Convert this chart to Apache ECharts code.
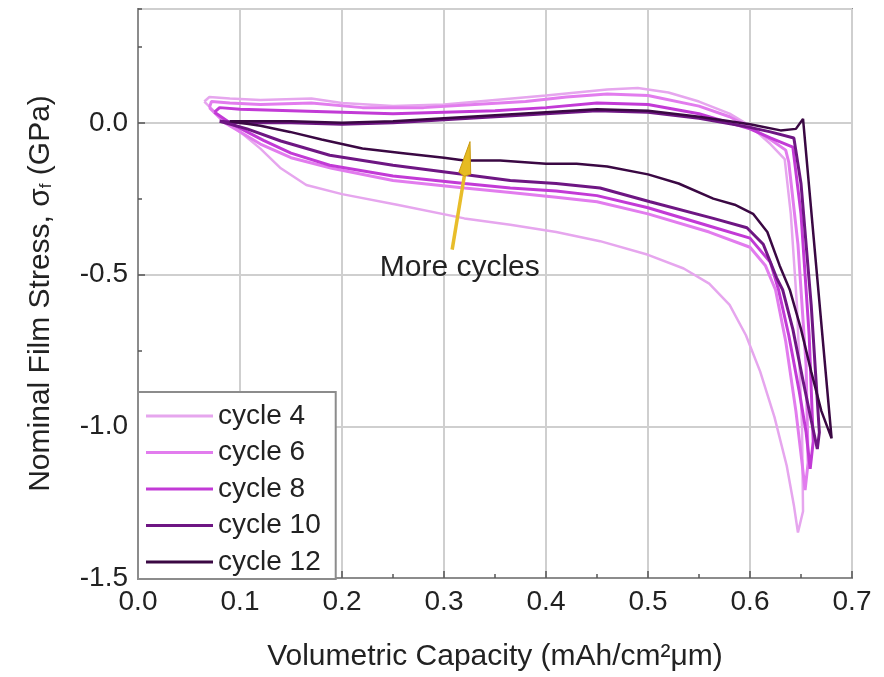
<!DOCTYPE html>
<html><head><meta charset="utf-8">
<script src="https://cdn.jsdelivr.net/npm/echarts@6/dist/echarts.min.js"></script>
<style>html,body{margin:0;padding:0;background:#fff}#c{width:884px;height:677px}</style>
</head><body><div id="c"></div><script>
const seriesNames = ['cycle 4', 'cycle 6', 'cycle 8', 'cycle 10', 'cycle 12'];
const seriesColors = ['#e6a6ee', '#e27cee', '#c23ad6', '#6e1683', '#3a0843'];
// each loop: discharge (left->right), steep rise, charge (right->left)
const cycle4 = [[0.065,0.07],[0.08,0.02],[0.1,-0.03],[0.12,-0.085],[0.14,-0.15],[0.165,-0.205],[0.2,-0.235],[0.254,-0.27],[0.32,-0.315],[0.365,-0.336],[0.41,-0.36],[0.453,-0.39],[0.5,-0.435],[0.535,-0.48],[0.56,-0.53],[0.58,-0.6],[0.596,-0.7],[0.61,-0.82],[0.624,-0.97],[0.636,-1.13],[0.643,-1.26],[0.647,-1.35],
  [0.652,-1.28],[0.651,-1.0],[0.646,-0.6],[0.64,-0.3],[0.634,-0.12],
  [0.62,-0.07],[0.6,-0.01],[0.58,0.03],[0.55,0.07],[0.52,0.1],[0.49,0.115],[0.46,0.11],[0.43,0.1],[0.4,0.09],[0.35,0.075],[0.3,0.06],[0.25,0.055],[0.2,0.065],[0.17,0.08],[0.12,0.075],[0.09,0.08],[0.07,0.085],[0.065,0.07]];
const cycle6 = [[0.07,0.05],[0.085,0.0],[0.12,-0.07],[0.15,-0.115],[0.19,-0.15],[0.25,-0.19],[0.32,-0.215],[0.365,-0.23],[0.41,-0.245],[0.45,-0.26],[0.5,-0.3],[0.56,-0.36],[0.6,-0.41],[0.615,-0.47],[0.625,-0.55],[0.635,-0.72],[0.645,-0.95],[0.651,-1.12],[0.654,-1.21],
  [0.657,-1.12],[0.655,-0.8],[0.647,-0.4],[0.638,-0.13],[0.635,-0.09],
  [0.62,-0.055],[0.6,-0.015],[0.58,0.02],[0.55,0.055],[0.5,0.09],[0.46,0.095],[0.42,0.085],[0.38,0.07],[0.33,0.06],[0.28,0.05],[0.22,0.05],[0.17,0.065],[0.12,0.06],[0.09,0.065],[0.072,0.07],[0.07,0.05]];
const cycle8 = [[0.075,0.035],[0.09,0.0],[0.123,-0.058],[0.15,-0.1],[0.188,-0.14],[0.25,-0.175],[0.32,-0.2],[0.365,-0.215],[0.41,-0.225],[0.45,-0.24],[0.5,-0.28],[0.56,-0.34],[0.6,-0.38],[0.62,-0.46],[0.628,-0.55],[0.638,-0.7],[0.648,-0.88],[0.655,-1.02],[0.659,-1.14],
  [0.662,-1.05],[0.658,-0.7],[0.65,-0.3],[0.642,-0.08],
  [0.62,-0.05],[0.6,-0.02],[0.55,0.03],[0.5,0.06],[0.45,0.065],[0.4,0.05],[0.35,0.04],[0.3,0.035],[0.25,0.03],[0.2,0.035],[0.15,0.04],[0.1,0.045],[0.08,0.05],[0.075,0.035]];
const cycle10 = [[0.08,0.005],[0.107,-0.02],[0.14,-0.06],[0.188,-0.107],[0.25,-0.14],[0.32,-0.17],[0.365,-0.19],[0.41,-0.2],[0.453,-0.215],[0.502,-0.26],[0.564,-0.315],[0.597,-0.346],[0.613,-0.4],[0.626,-0.51],[0.632,-0.55],[0.642,-0.68],[0.652,-0.85],[0.66,-0.98],[0.666,-1.075],
  [0.668,-1.02],[0.66,-0.6],[0.65,-0.2],[0.643,-0.05],
  [0.62,-0.03],[0.6,-0.015],[0.55,0.015],[0.5,0.035],[0.45,0.04],[0.4,0.03],[0.35,0.02],[0.3,0.01],[0.25,0.0],[0.2,-0.005],[0.15,0.0],[0.1,0.0],[0.08,0.005]];
const cycle12 = [[0.09,0.005],[0.12,-0.01],[0.149,-0.03],[0.18,-0.055],[0.22,-0.085],[0.26,-0.1],[0.3,-0.115],[0.32,-0.124],[0.355,-0.124],[0.4,-0.135],[0.43,-0.135],[0.46,-0.144],[0.5,-0.17],[0.53,-0.2],[0.564,-0.25],[0.585,-0.27],[0.603,-0.3],[0.617,-0.36],[0.629,-0.47],[0.639,-0.55],[0.65,-0.68],[0.66,-0.82],[0.67,-0.95],[0.68,-1.04],
  [0.652,0.013],
  [0.645,-0.02],[0.63,-0.025],[0.6,-0.005],[0.55,0.02],[0.5,0.04],[0.45,0.045],[0.4,0.035],[0.35,0.025],[0.3,0.015],[0.25,0.005],[0.2,0.0],[0.15,0.005],[0.1,0.005],[0.09,0.005]];
const allCycles = [cycle4, cycle6, cycle8, cycle10, cycle12];
const seriesWidths = [2.5, 3, 3, 3, 2.5];
const annotationText = 'More cycles';
const arrowFrom = [0.308, -0.418];
const arrowTo = [0.3255, -0.062];
const labelAnchor = [0.237, -0.477];

const FONT = "'Liberation Sans', Arial, sans-serif";
const chart = echarts.init(document.getElementById('c'));
const fmt = v => (Math.abs(v) < 1e-9 ? 0 : v).toFixed(1);
chart.setOption({
  backgroundColor: '#ffffff',
  animation: false,
  grid: { left: 138, right: 32, top: 9, bottom: 94, show: true, borderColor: '#8c8c8c', borderWidth: 2, containLabel: false },
  legend: {
    data: seriesNames, orient: 'vertical', left: 138, top: 392,
    padding: [10, 15, 3, 8], itemGap: 8.5, itemWidth: 67, itemHeight: 3, icon: 'rect',
    backgroundColor: '#fff', borderColor: '#8c8c8c', borderWidth: 2,
    textStyle: { fontFamily: FONT, fontSize: 28, lineHeight: 26, color: '#222' }
  },
  xAxis: [{
    type: 'value', min: 0, max: 0.7, interval: 0.1,
    name: 'Volumetric Capacity (mAh/cm²μm)', nameLocation: 'middle', nameGap: 64,
    nameTextStyle: { fontFamily: FONT, fontSize: 30, color: '#222' },
    axisLine: { show: true, onZero: false, lineStyle: { color: '#8c8c8c', width: 2 } },
    axisTick: { show: true, inside: true, length: 7, lineStyle: { color: '#555', width: 1.5 } },
    minorTick: { show: true, splitNumber: 2, length: 4, lineStyle: { color: '#555', width: 1.5 } },
    axisLabel: { fontFamily: FONT, fontSize: 28, color: '#222', margin: 10, formatter: fmt },
    splitLine: { show: true, lineStyle: { color: '#cfcfcf', width: 2 } }
  }],
  yAxis: [{
    type: 'value', min: -1.5, max: 0.375, interval: 0.5,
    name: 'Nominal Film Stress, σ{s|f} (GPa)', nameLocation: 'middle', nameGap: 82,
    nameTextStyle: { fontFamily: FONT, fontSize: 30, color: '#222', rich: { s: { fontFamily: FONT, fontSize: 17, color: '#222', padding: [10, 0, 0, 0] } } },
    axisLine: { show: true, onZero: false, lineStyle: { color: '#8c8c8c', width: 2 } },
    axisTick: { show: true, inside: true, length: 7, lineStyle: { color: '#555', width: 1.5 } },
    axisLabel: { fontFamily: FONT, fontSize: 28, color: '#222', margin: 10, showMaxLabel: false, formatter: fmt },
    splitLine: { show: true, lineStyle: { color: '#cfcfcf', width: 2 } }
  }, {
    type: 'value', min: -1.5, max: 0.375, interval: 0.25, position: 'left',
    axisLine: { show: false, onZero: false }, axisLabel: { show: false }, splitLine: { show: false },
    axisTick: { show: true, inside: true, length: 4, lineStyle: { color: '#555', width: 1.5 } }
  }],
  series: allCycles.map((d, i) => ({
    name: seriesNames[i], type: 'line', data: d, xAxisIndex: 0, yAxisIndex: 0,
    showSymbol: false, symbol: 'none', z: 2 + i,
    lineStyle: { color: seriesColors[i], width: seriesWidths[i] },
    itemStyle: { color: seriesColors[i] }
  }))
});

function drawAnnotation() {
  const p0 = chart.convertToPixel({ xAxisIndex: 0, yAxisIndex: 0 }, arrowFrom);
  const p1 = chart.convertToPixel({ xAxisIndex: 0, yAxisIndex: 0 }, arrowTo);
  const lp = chart.convertToPixel({ xAxisIndex: 0, yAxisIndex: 0 }, labelAnchor);
  const dx = p1[0] - p0[0], dy = p1[1] - p0[1];
  const len = Math.hypot(dx, dy), ux = dx / len, uy = dy / len;
  const px = -uy, py = ux;
  const hl = 32, hw = 6;
  const b = [p1[0] - ux * hl, p1[1] - uy * hl];
  chart.setOption({
    graphic: [
      { type: 'line', shape: { x1: p0[0], y1: p0[1], x2: b[0] + ux * 4, y2: b[1] + uy * 4 }, style: { stroke: '#e8bd2a', lineWidth: 3.5 }, z: 50 },
      { type: 'polygon', shape: { points: [p1, [b[0] + px * hw, b[1] + py * hw], [b[0] - ux * 3, b[1] - uy * 3], [b[0] - px * hw, b[1] - py * hw]] }, style: { fill: '#e6bb22', stroke: '#c99a12', lineWidth: 1 }, z: 51 },
      { type: 'text', x: lp[0], y: lp[1], style: { text: annotationText, font: "30px 'Liberation Sans', Arial, sans-serif", fill: '#222', textAlign: 'left', textVerticalAlign: 'middle' }, z: 52 }
    ]
  });
}
drawAnnotation();
</script></body></html>
